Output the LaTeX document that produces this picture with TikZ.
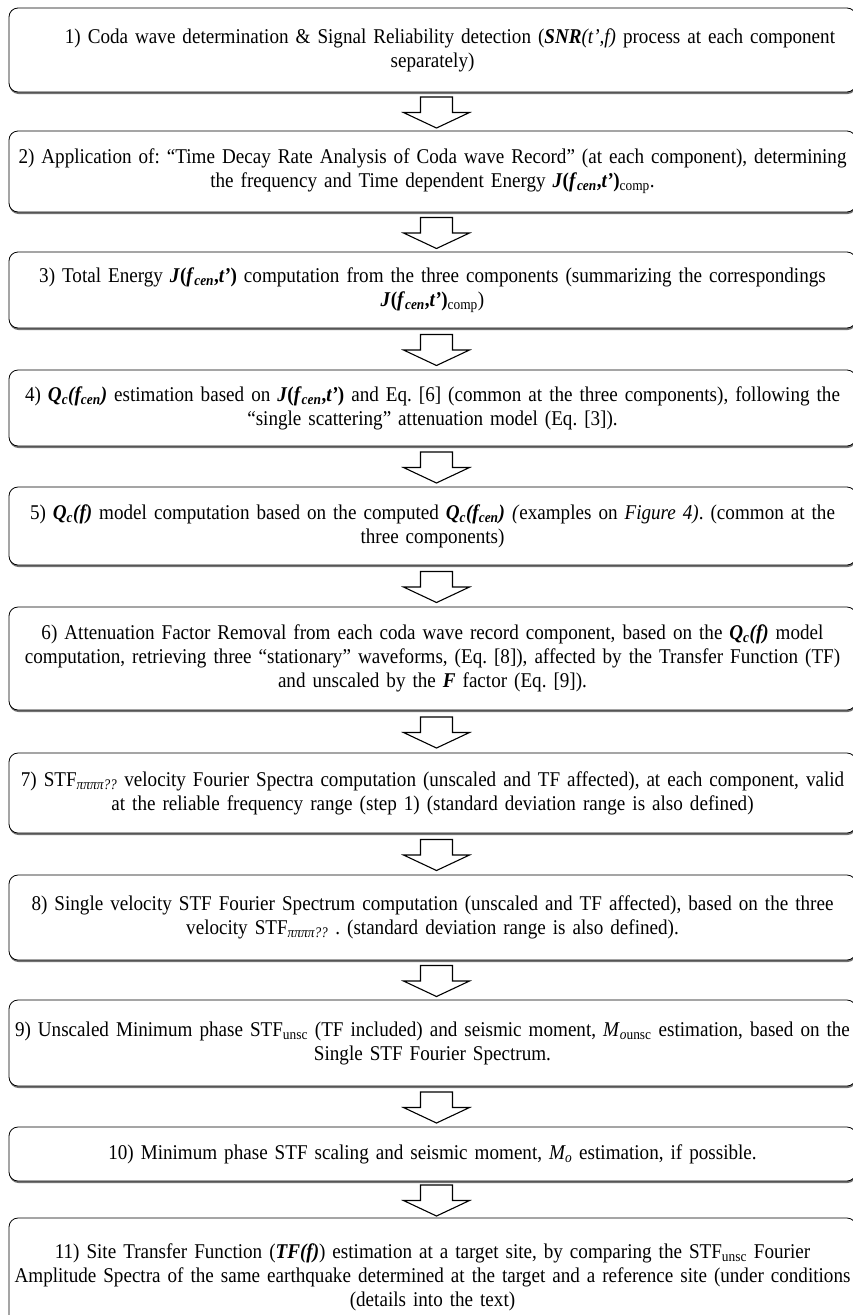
\documentclass[tikz,border=0pt]{standalone}
\usepackage{fontspec}
\setmainfont[FakeStretch=0.91]{Liberation Serif}
\frenchspacing
\usetikzlibrary{positioning,shadows,calc}

\begin{document}
\begin{tikzpicture}[x=1pt,y=-1pt,
    stepbox/.style={draw,line width=0.8pt,rounded corners=9pt,fill=white,
        minimum width=847pt,text width=846pt,align=center,inner sep=0pt,
        font=\fontsize{21}{24}\selectfont,
        drop shadow={shadow xshift=0.5pt,shadow yshift=-2pt,fill=black!55,opacity=1}},
    blockarr/.style={draw,line width=1.1pt,fill=white,line join=miter}]
    \useasboundingbox (0,0) rectangle (853,1315);
    \node[stepbox,minimum height=84pt] (b1) at (432.5,50) {\hspace*{35pt}1) Coda wave determination \& Signal Reliability detection (\textbf{\textit{SNR}}\textit{(t’,f)} process at each component\\ separately)};
    \node[stepbox,minimum height=81pt] (b2) at (432.5,171.5) {2) Application of: “Time Decay Rate Analysis of Coda wave Record” (at each component), determining\\ the frequency and Time dependent Energy \textbf{\textit{J}(\textit{f}\textsubscript{\textit{cen}},\textit{t’})}\textsubscript{comp}.};
    \node[stepbox,minimum height=76pt] (b3) at (432.5,290) {3) Total Energy \textbf{\textit{J}(\textit{f}\textsubscript{\textit{cen}},\textit{t’})} computation from the three components (summarizing the correspondings\\ \textbf{\textit{J}(\textit{f}\textsubscript{\textit{cen}},\textit{t’})}\textsubscript{comp})};
    \node[stepbox,minimum height=76pt] (b4) at (432.5,408) {4) \textbf{\textit{Q\textsubscript{c}(f\textsubscript{cen})}} estimation based on \textbf{\textit{J}(\textit{f}\textsubscript{\textit{cen}},\textit{t’})} and Eq. [6] (common at the three components), following the\\ “single scattering” attenuation model (Eq. [3]).};
    \node[stepbox,minimum height=78pt] (b5) at (432.5,526) {5) \textbf{\textit{Q\textsubscript{c}(f)}} model computation based on the computed \textbf{\textit{Q\textsubscript{c}(f\textsubscript{cen})}} \textit{(}examples on \textit{Figure 4)}. (common at the\\ three components)};
    \node[stepbox,minimum height=103pt] (b6) at (432.5,658.5) {6) Attenuation Factor Removal from each coda wave record component, based on the \textbf{\textit{Q\textsubscript{c}(f)}} model\\ computation, retrieving three “stationary” waveforms, (Eq. [8]), affected by the Transfer Function (TF)\\ and unscaled by the \textbf{\textit{F}} factor (Eq. [9]).};
    \node[stepbox,minimum height=80pt] (b7) at (432.5,793) {7) STF\textsubscript{\textit{ππππ??}} velocity Fourier Spectra computation (unscaled and TF affected), at each component, valid\\ at the reliable frequency range (step 1) (standard deviation range is also defined)};
    \node[stepbox,minimum height=85pt] (b8) at (432.5,917.5) {8) Single velocity STF Fourier Spectrum computation (unscaled and TF affected), based on the three\\ velocity STF\textsubscript{\textit{ππππ??}} . (standard deviation range is also defined).};
    \node[stepbox,minimum height=86pt] (b9) at (432.5,1043) {9) Unscaled Minimum phase STF\textsubscript{unsc} (TF included) and seismic moment, \textit{M}\textsubscript{\textit{o}unsc} estimation, based on the\\ Single STF Fourier Spectrum.};
    \node[stepbox,minimum height=54pt] (b10) at (432.5,1154) {10) Minimum phase STF scaling and seismic moment, \textit{M\textsubscript{o}} estimation, if possible.};
    \node[stepbox,minimum height=118pt] (b11) at (432.5,1277) {11) Site Transfer Function (\textbf{\textit{TF(f)}}) estimation at a target site, by comparing the STF\textsubscript{unsc} Fourier\\ Amplitude Spectra of the same earthquake determined at the target and a reference site (under conditions\\ (details into the text)};
    % block arrows between the steps
    \foreach \i in {1,...,10}{
        \pgfmathtruncatemacro{\j}{\i+1}
        \coordinate (a\i) at ($(b\i.south)!0.5!(b\j.north)+(4,1)$);
        \draw[blockarr] (a\i) +(-16,-15.5) -- +(16,-15.5) -- +(16,0) -- +(33,0)
            -- +(0,15.5) -- +(-33,0) -- +(-16,0) -- cycle;
    }
\end{tikzpicture}
\end{document}
